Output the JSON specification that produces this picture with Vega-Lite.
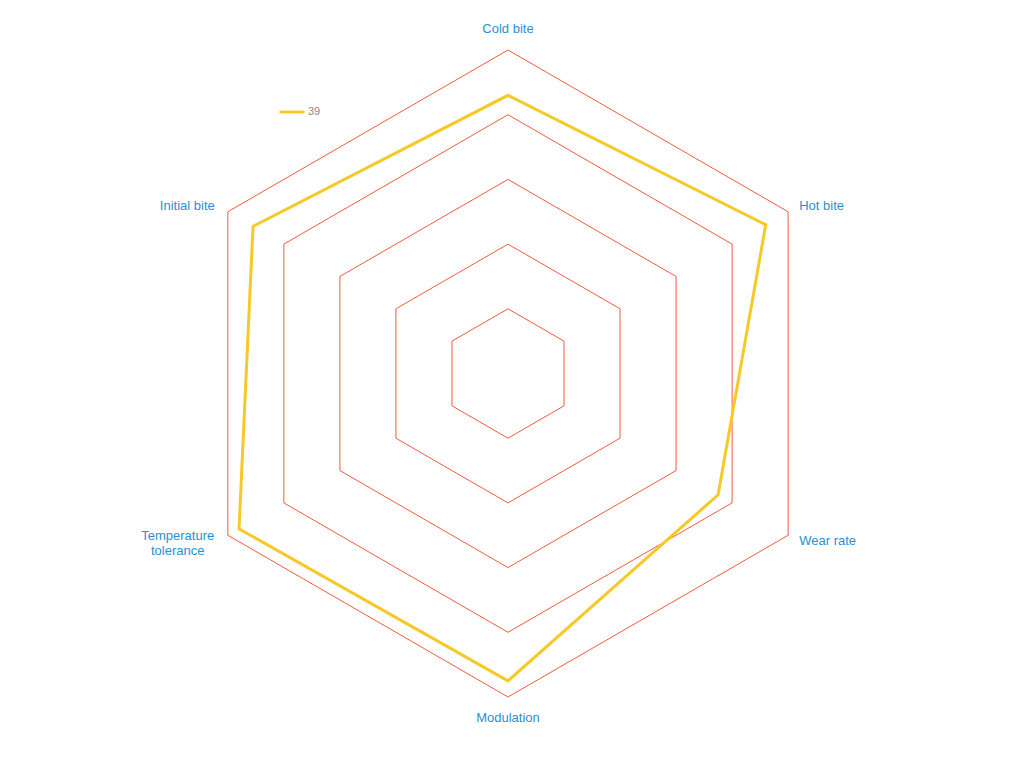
{
  "$schema": "https://vega.github.io/schema/vega-lite/v6.json",
  "width": 1024,
  "height": 768,
  "padding": 0,
  "autosize": {"type": "none"},
  "background": "white",
  "config": {
    "view": {"stroke": null},
    "text": {"font": "Liberation Sans", "fontSize": 13, "color": "#2a8fd6"}
  },
  "datasets": {
    "scores": [
      {"axis": "Cold bite", "i": 0, "value": 86, "series": "39"},
      {"axis": "Hot bite", "i": 1, "value": 92, "series": "39"},
      {"axis": "Wear rate", "i": 2, "value": 75, "series": "39"},
      {"axis": "Modulation", "i": 3, "value": 95, "series": "39"},
      {"axis": "Temperature tolerance", "i": 4, "value": 96, "series": "39"},
      {"axis": "Initial bite", "i": 5, "value": 91, "series": "39"}
    ],
    "spokes": [
      {"axis": "Cold bite", "i": 0, "label": "Cold bite", "levels": [20, 40, 60, 80, 100]},
      {"axis": "Hot bite", "i": 1, "label": "Hot bite", "levels": [20, 40, 60, 80, 100]},
      {"axis": "Wear rate", "i": 2, "label": "Wear rate", "levels": [20, 40, 60, 80, 100]},
      {"axis": "Modulation", "i": 3, "label": "Modulation", "levels": [20, 40, 60, 80, 100]},
      {"axis": "Temperature tolerance", "i": 4, "label": ["Temperature", "tolerance"], "levels": [20, 40, 60, 80, 100]},
      {"axis": "Initial bite", "i": 5, "label": "Initial bite", "levels": [20, 40, 60, 80, 100]}
    ]
  },
  "encoding": {
    "x": {"field": "px", "type": "quantitative", "scale": {"domain": [-157.03, 159.51], "nice": false, "zero": false}, "axis": null},
    "y": {"field": "py", "type": "quantitative", "scale": {"domain": [-121.95, 115.46], "nice": false, "zero": false}, "axis": null}
  },
  "layer": [
    {
      "data": {"name": "spokes"},
      "transform": [
        {"flatten": ["levels"], "as": ["level"]},
        {"calculate": "datum.level * sin(datum.i * PI / 3)", "as": "px"},
        {"calculate": "datum.level * cos(datum.i * PI / 3)", "as": "py"}
      ],
      "mark": {"type": "line", "interpolate": "linear-closed", "stroke": "#ef5b3f", "strokeWidth": 1},
      "encoding": {
        "detail": {"field": "level", "type": "nominal"},
        "order": {"field": "i", "type": "quantitative"}
      }
    },
    {
      "data": {"name": "scores"},
      "transform": [
        {"calculate": "datum.value * sin(datum.i * PI / 3)", "as": "px"},
        {"calculate": "datum.value * cos(datum.i * PI / 3)", "as": "py"}
      ],
      "mark": {"type": "line", "interpolate": "linear-closed", "strokeWidth": 3},
      "encoding": {
        "order": {"field": "i", "type": "quantitative"},
        "color": {
          "field": "series",
          "type": "nominal",
          "scale": {"domain": ["39"], "range": ["#f7c928"]},
          "legend": {
            "orient": "none",
            "legendX": 278,
            "legendY": 98,
            "title": null,
            "symbolType": "stroke",
            "symbolSize": 625,
            "symbolStrokeWidth": 3,
            "labelFontSize": 11,
            "labelColor": "#888888",
            "labelFont": "Liberation Sans",
            "labelOffset": 2,
            "padding": 0
          }
        }
      }
    },
    {
      "data": {"name": "spokes"},
      "transform": [
        {"filter": "datum.i == 0 || datum.i == 3"},
        {"calculate": "106.5 * sin(datum.i * PI / 3)", "as": "px"},
        {"calculate": "106.5 * cos(datum.i * PI / 3)", "as": "py"}
      ],
      "mark": {"type": "text", "align": "center", "baseline": "middle"},
      "encoding": {"text": {"field": "label"}}
    },
    {
      "data": {"name": "spokes"},
      "transform": [
        {"filter": "datum.i == 1 || datum.i == 2"},
        {"calculate": "103.6 * sin(datum.i * PI / 3)", "as": "px"},
        {"calculate": "103.6 * cos(datum.i * PI / 3)", "as": "py"}
      ],
      "mark": {"type": "text", "align": "left", "baseline": "middle", "dx": 1},
      "encoding": {"text": {"field": "label"}}
    },
    {
      "data": {"name": "spokes"},
      "transform": [
        {"filter": "datum.i == 5"},
        {"calculate": "103.6 * sin(datum.i * PI / 3)", "as": "px"},
        {"calculate": "103.6 * cos(datum.i * PI / 3)", "as": "py"}
      ],
      "mark": {"type": "text", "align": "right", "baseline": "middle", "dx": -3},
      "encoding": {"text": {"field": "label"}}
    },
    {
      "data": {"name": "spokes"},
      "transform": [
        {"filter": "datum.i == 4"},
        {"calculate": "103.6 * sin(datum.i * PI / 3)", "as": "px"},
        {"calculate": "103.6 * cos(datum.i * PI / 3)", "as": "py"}
      ],
      "mark": {"type": "text", "align": "center", "baseline": "middle", "dx": -40, "dy": -5, "lineHeight": 15},
      "encoding": {"text": {"field": "label"}}
    }
  ]
}
